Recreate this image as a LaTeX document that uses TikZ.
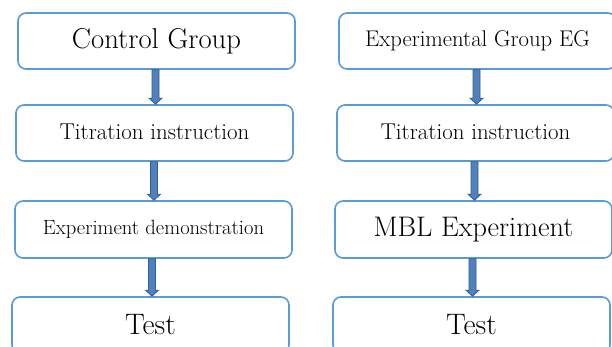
\documentclass[tikz,border=0pt]{standalone}
\usetikzlibrary{calc}
\definecolor{boxblue}{RGB}{91,155,213}
\definecolor{arrfill}{RGB}{79,129,189}
\definecolor{arrline}{RGB}{56,93,138}
\tikzset{
  stagebox/.style={draw=boxblue, line width=1.6pt, rounded corners=8pt, fill=white,
    minimum width=277pt, minimum height=56pt, inner sep=0pt, text=black},
  blockarr/.style={fill=arrfill, draw=arrline, line width=0.8pt, line join=miter}
}
\newcommand\blockarrow[2]{%
  \path let \p1=(#1), \p2=(#2) in [blockarr]
    (\x1-3.5pt,\y1) -- (\x1+3.5pt,\y1) -- (\x1+3.5pt,\y2+6pt) -- (\x1+6.5pt,\y2+6pt)
    -- (\x1,\y2) -- (\x1-6.5pt,\y2+6pt) -- (\x1-3.5pt,\y2+6pt) -- cycle;}
\begin{document}
\begin{tikzpicture}[x=1pt,y=-1pt]
\useasboundingbox (0,0) rectangle (612,347);
\clip (0,0) rectangle (612,347);
% left column
\node[stagebox] (L1) at (156.5,41) {\fontsize{28.7}{32}\selectfont Control Group};
\node[stagebox] (L2) at (154.5,133) {\raisebox{3pt}{\fontsize{22.9}{26}\selectfont Titration instruction}};
\node[stagebox, minimum height=57pt] (L3) at (153.5,229.5) {\raisebox{4pt}{\fontsize{20.6}{24}\selectfont Experiment demonstration}};
\node[stagebox] (L4) at (150.5,325) {\raisebox{1pt}{\fontsize{29.6}{33}\selectfont Test}};
% right column
\node[stagebox] (R1) at (477.5,41) {\raisebox{2pt}{\fontsize{22.7}{26}\selectfont Experimental Group EG}};
\node[stagebox] (R2) at (475.5,133) {\raisebox{3pt}{\fontsize{22.9}{26}\selectfont Titration instruction}};
\node[stagebox, minimum height=57pt] (R3) at (473.5,229.5) {\fontsize{28.3}{32}\selectfont MBL Experiment};
\node[stagebox] (R4) at (471.5,325) {\raisebox{1pt}{\fontsize{29.6}{33}\selectfont Test}};
% arrows
\coordinate (a1) at ($(L1.south)!0.5!(L2.north)$);
\blockarrow{a1 |- L1.south}{a1 |- L2.north}
\coordinate (a2) at ($(L2.south)!0.5!(L3.north)$);
\blockarrow{a2 |- L2.south}{a2 |- L3.north}
\coordinate (a3) at ($(L3.south)!0.5!(L4.north)$);
\blockarrow{a3 |- L3.south}{a3 |- L4.north}
\coordinate (b1) at ($(R1.south)!0.5!(R2.north)$);
\blockarrow{b1 |- R1.south}{b1 |- R2.north}
\coordinate (b2) at ($(R2.south)!0.5!(R3.north)$);
\blockarrow{b2 |- R2.south}{b2 |- R3.north}
\coordinate (b3) at ($(R3.south)!0.5!(R4.north)$);
\blockarrow{b3 |- R3.south}{b3 |- R4.north}
\end{tikzpicture}
\end{document}
